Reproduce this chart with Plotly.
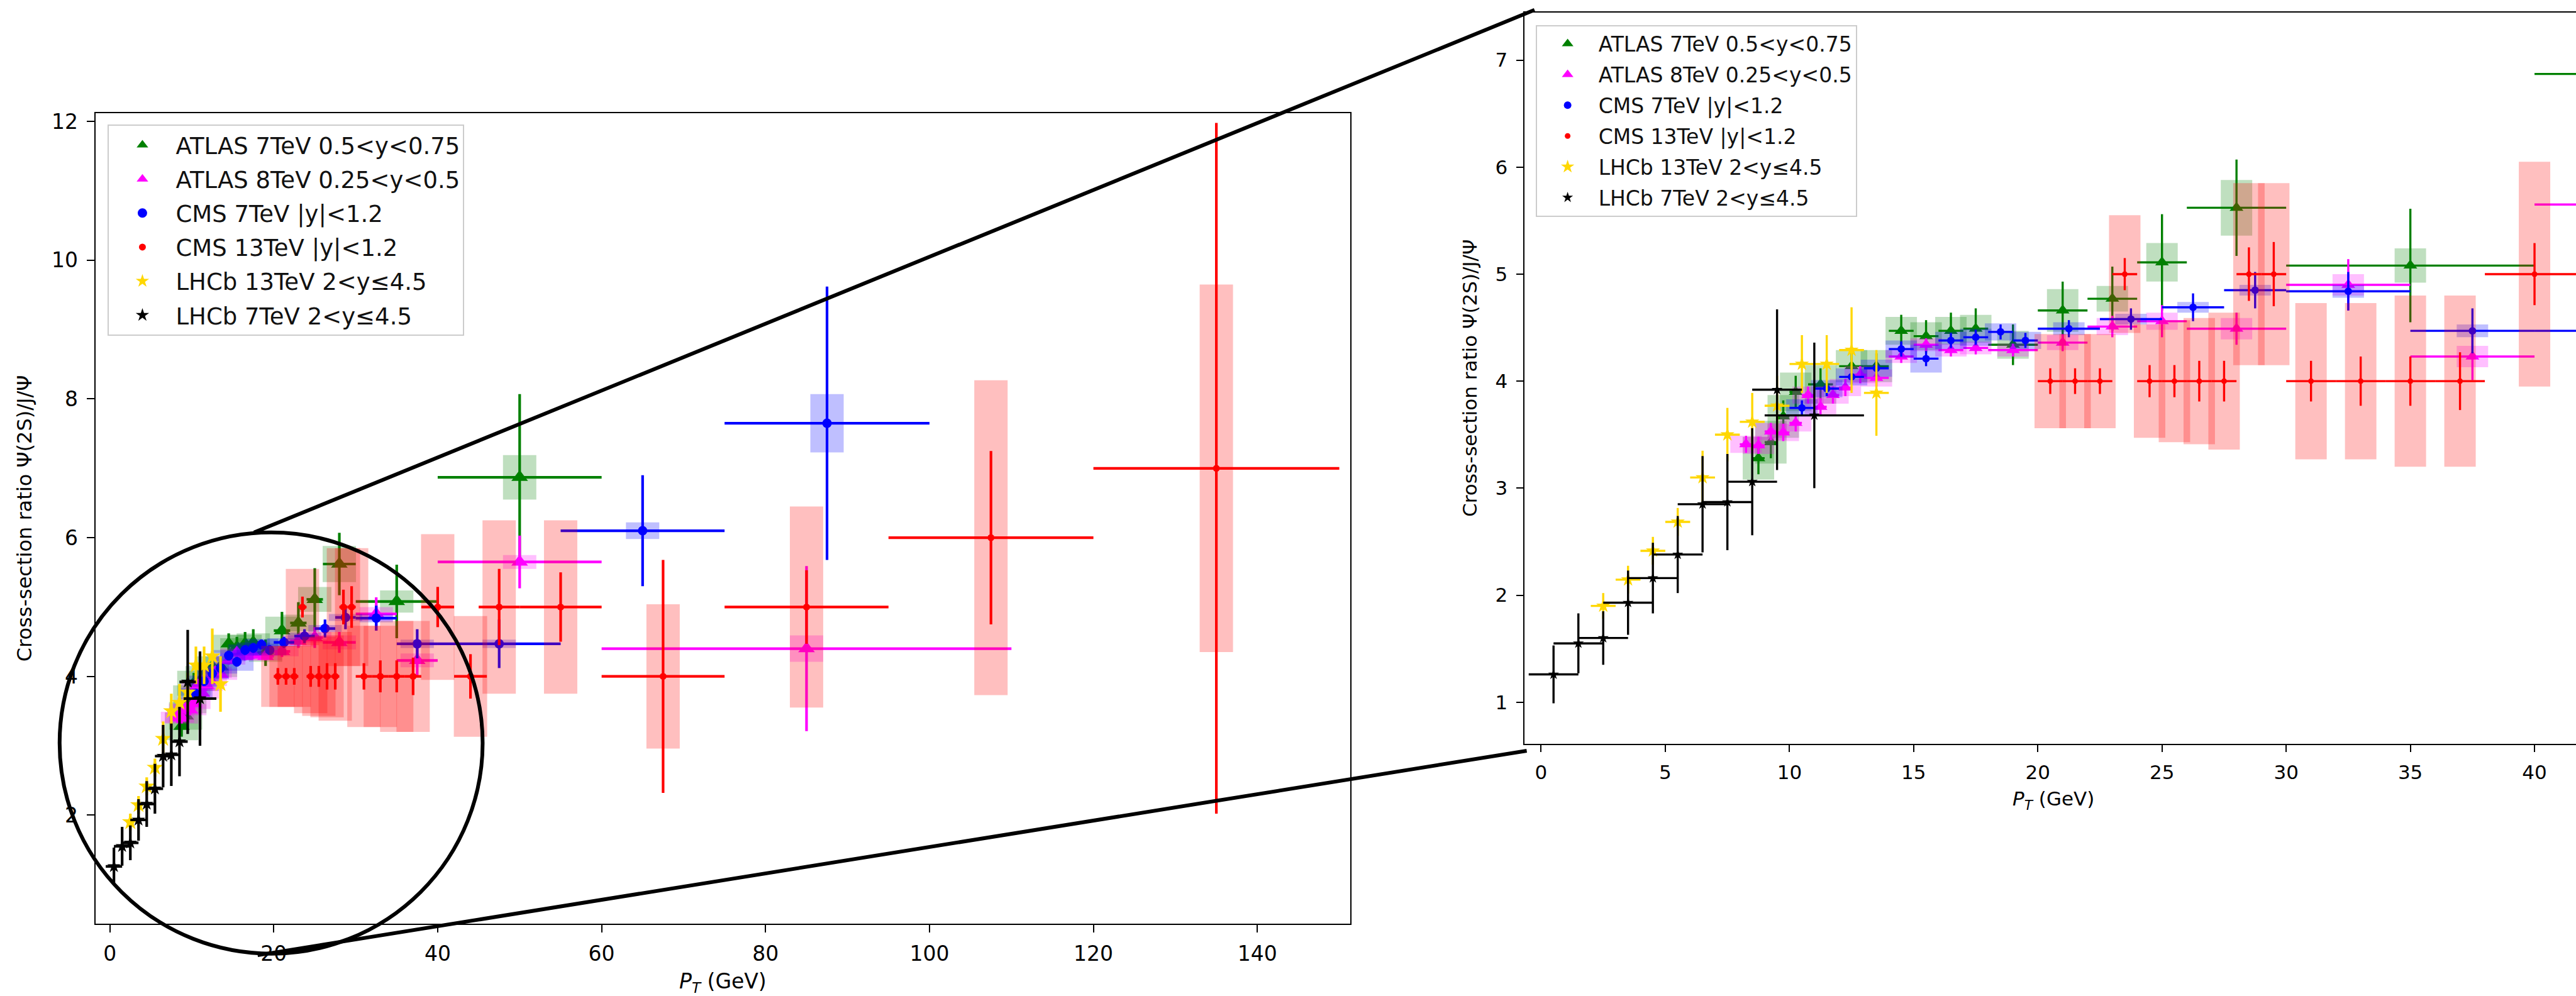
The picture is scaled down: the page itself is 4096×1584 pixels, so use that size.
import plotly.graph_objects as go

# ---------------- data ----------------
# ATLAS 7 TeV 0.5<y<0.75
a7_x = [8.75, 9.25, 9.75, 10.25, 11.25, 12.5, 13.5, 14.5, 15.5, 16.5, 17.5, 19, 21, 23, 25, 28, 35, 50]
a7_y = [3.28, 3.43, 3.67, 3.90, 3.97, 4.14, 4.14, 4.47, 4.42, 4.47, 4.49, 4.34, 4.66, 4.77, 5.11, 5.62, 5.08, 6.87]
a7_xe = [0.25, 0.25, 0.25, 0.25, 0.5, 0.5, 0.5, 0.5, 0.5, 0.5, 0.5, 1, 1, 1, 1, 2, 5, 10]
a7_ye = [0.15, 0.15, 0.15, 0.15, 0.15, 0.12, 0.12, 0.15, 0.15, 0.17, 0.19, 0.19, 0.27, 0.3, 0.45, 0.45, 0.53, 1.2]
a7_sys = [0.2, 0.2, 0.2, 0.18, 0.18, 0.15, 0.15, 0.13, 0.13, 0.13, 0.13, 0.13, 0.2, 0.12, 0.18, 0.26, 0.16, 0.32]

# ATLAS 8 TeV 0.25<y<0.5
a8_x = [8.25, 8.75, 9.25, 9.75, 10.25, 10.75, 11.25, 11.75, 12.25, 12.85, 13.5, 14.5, 15.5, 16.5, 17.5,
        19, 21, 23, 25, 28, 32.5, 37.5, 50, 85]
a8_y = [3.41, 3.40, 3.53, 3.52, 3.61, 3.87, 3.76, 3.87, 3.94, 4.06, 4.03, 4.23, 4.34, 4.29, 4.31,
        4.29, 4.36, 4.51, 4.56, 4.49, 4.90, 4.23, 5.65, 4.40]
a8_xe = [0.25, 0.25, 0.25, 0.25, 0.25, 0.25, 0.25, 0.25, 0.25, 0.25, 0.5, 0.5, 0.5, 0.5, 0.5,
         1, 1, 1, 1, 2, 2.5, 2.5, 10, 25]
a8_ye = [0.08, 0.08, 0.08, 0.08, 0.08, 0.08, 0.08, 0.08, 0.08, 0.08, 0.08, 0.06, 0.06, 0.06, 0.06,
         0.06, 0.08, 0.1, 0.15, 0.15, 0.24, 0.22, 0.38, 1.19]
a8_sys = [0.08, 0.08, 0.08, 0.08, 0.08, 0.08, 0.08, 0.08, 0.08, 0.08, 0.08, 0.06, 0.06, 0.06, 0.06,
          0.06, 0.07, 0.08, 0.08, 0.1, 0.1, 0.1, 0.1, 0.19]

# CMS 7 TeV |y|<1.2
c7_x = [10.5, 11.5, 12.5, 13.5, 14.5, 15.5, 16.5, 17.5, 18.5, 19.5, 21.25, 23.75, 26.25, 28.75, 32.5, 37.5, 47.5, 65, 87.5]
c7_y = [3.75, 3.93, 4.04, 4.12, 4.30, 4.21, 4.38, 4.41, 4.46, 4.38, 4.49, 4.58, 4.69, 4.85, 4.84, 4.47, 4.47, 6.10, 7.65]
c7_xe = [0.5, 0.5, 0.5, 0.5, 0.5, 0.5, 0.5, 0.5, 0.5, 0.5, 1.25, 1.25, 1.25, 1.25, 2.5, 2.5, 7.5, 10, 12.5]
c7_ye = [0.07, 0.07, 0.07, 0.07, 0.07, 0.07, 0.07, 0.07, 0.07, 0.07, 0.08, 0.1, 0.13, 0.17, 0.18, 0.21, 0.35, 0.8, 1.97]
c7_sys = [0.08, 0.08, 0.08, 0.08, 0.08, 0.13, 0.08, 0.08, 0.08, 0.08, 0.06, 0.05, 0.05, 0.05, 0.06, 0.06, 0.06, 0.12, 0.42]

# CMS 13 TeV |y|<1.2
c13_x = [20.5, 21.5, 22.5, 23.5, 24.5, 25.5, 26.5, 27.5, 28.5, 29.5, 31, 33, 35, 37, 40, 44, 47.5, 55, 67.5, 85, 107.5, 135]
c13_y = [4.0, 4.0, 4.0, 5.0, 4.0, 4.0, 4.0, 4.0, 5.0, 5.0, 4.0, 4.0, 4.0, 4.0, 5.0, 4.0, 5.0, 5.0, 4.0, 5.0, 6.0, 7.0]
c13_xe = [0.5, 0.5, 0.5, 0.5, 0.5, 0.5, 0.5, 0.5, 0.5, 0.5, 1, 1, 1, 1, 2, 2, 2.5, 5, 7.5, 10, 12.5, 15]
c13_ye = [0.12, 0.12, 0.12, 0.15, 0.15, 0.15, 0.19, 0.19, 0.25, 0.3, 0.19, 0.23, 0.23, 0.27, 0.29, 0.32, 0.55, 0.5,
          1.68, 0.53, 1.25, 4.98]
c13_sys = [0.44, 0.44, 0.44, 0.55, 0.53, 0.57, 0.59, 0.64, 0.85, 0.85, 0.73, 0.73, 0.8, 0.8, 1.05, 0.87, 1.25, 1.25,
           1.04, 1.45, 2.27, 2.65]

# LHCb 13 TeV 2<y<=4.5
l13_x = [2.5, 3.5, 4.5, 5.5, 6.5, 7.5, 8.5, 9.5, 10.5, 11.5, 12.5, 13.5]
l13_y = [1.90, 2.145, 2.415, 2.685, 3.10, 3.50, 3.62, 3.77, 4.16, 4.16, 4.29, 3.89]
l13_xe = [0.5, 0.5, 0.5, 0.5, 0.5, 0.5, 0.5, 0.5, 0.5, 0.5, 0.5, 0.5]
l13_ye = [0.12, 0.13, 0.13, 0.13, 0.25, 0.25, 0.27, 0.28, 0.27, 0.27, 0.4, 0.4]

# LHCb 7 TeV 2<y<=4.5
l7_x = [0.5, 1.5, 2.5, 3.5, 4.5, 5.5, 6.5, 7.5, 8.5, 9.5, 11]
l7_y = [1.26, 1.55, 1.60, 1.93, 2.16, 2.38, 2.85, 2.87, 3.06, 3.92, 3.68]
l7_xe = [1, 1, 1, 1, 1, 1, 1, 1, 1, 1, 2]
l7_ye = [0.27, 0.28, 0.25, 0.3, 0.33, 0.36, 0.45, 0.45, 0.5, 0.75, 0.68]

names = ["ATLAS 7TeV 0.5<y<0.75", "ATLAS 8TeV 0.25<y<0.5", "CMS 7TeV |y|<1.2",
         "CMS 13TeV |y|<1.2", "LHCb 13TeV 2<y≤4.5", "LHCb 7TeV 2<y≤4.5"]

y_title = "Cross-section ratio Ψ(2S)/J/Ψ"
x_title = "<i>P<sub>T</sub></i> (GeV)"

left_xticks = [0, 20, 40, 60, 80, 100, 120, 140]
left_yticks = [2, 4, 6, 8, 10, 12]
right_xticks = [0, 5, 10, 15, 20, 25, 30, 35, 40]
right_yticks = [1, 2, 3, 4, 5, 6, 7]

FONT = "DejaVu Sans"
W, H = 4096, 1584

fig = go.Figure()

series = [
    dict(x=a7_x, y=a7_y, xe=a7_xe, ye=a7_ye, sys=a7_sys, color="#008000", box="rgba(0,128,0,0.25)",
         sym="triangle-up", size=(23, 19), name=names[0]),
    dict(x=a8_x, y=a8_y, xe=a8_xe, ye=a8_ye, sys=a8_sys, color="#FF00FF", box="rgba(255,0,255,0.25)",
         sym="triangle-up", size=(23, 19), name=names[1]),
    dict(x=c7_x, y=c7_y, xe=c7_xe, ye=c7_ye, sys=c7_sys, color="#0000FF", box="rgba(0,0,255,0.25)",
         sym="circle", size=(15, 12), name=names[2]),
    dict(x=c13_x, y=c13_y, xe=c13_xe, ye=c13_ye, sys=c13_sys, color="#FF0000", box="rgba(255,0,0,0.25)",
         sym="circle", size=(11, 9), name=names[3]),
    dict(x=l13_x, y=l13_y, xe=l13_xe, ye=l13_ye, sys=None, color="#FFD700", box=None,
         sym="star", size=(20, 17), name=names[4]),
    dict(x=l7_x, y=l7_y, xe=l7_xe, ye=l7_ye, sys=None, color="#000000", box=None,
         sym="star", size=(16, 13), name=names[5]),
]

panels = [
    dict(xa="x", ya="y", legend="legend", lw=4.2, boxw=53, idx=0),
    dict(xa="x2", ya="y2", legend="legend2", lw=3.4, boxw=50, idx=1),
]

for p in panels:
    for k, s in enumerate(series):
        grp = f"{p['legend']}_{k}"
        if s["sys"] is not None:
            bx, by = [], []
            for xi, yi, si in zip(s["x"], s["y"], s["sys"]):
                bx += [xi, xi, None]
                by += [yi - si, yi + si, None]
            fig.add_trace(go.Scatter(
                x=bx, y=by, mode="lines", line=dict(color=s["box"], width=p["boxw"]),
                xaxis=p["xa"], yaxis=p["ya"], showlegend=False, hoverinfo="skip",
                legendgroup=grp, legend=p["legend"]))
        fig.add_trace(go.Scatter(
            x=s["x"], y=s["y"], mode="markers", name=s["name"],
            marker=dict(symbol=s["sym"], size=s["size"][p["idx"]], color=s["color"], line=dict(width=0)),
            error_x=dict(type="data", array=s["xe"], color=s["color"], thickness=p["lw"], width=0),
            error_y=dict(type="data", array=s["ye"], color=s["color"], thickness=p["lw"], width=0),
            xaxis=p["xa"], yaxis=p["ya"], legend=p["legend"], legendgroup=grp))

axis_common = dict(showgrid=False, zeroline=False, showline=True, linecolor="black", linewidth=2,
                   ticks="outside", tickcolor="black", tickwidth=2, color="black")

fig.update_layout(
    width=W, height=H, margin=dict(l=0, r=0, t=0, b=0),
    paper_bgcolor="white", plot_bgcolor="white",
    font=dict(family=FONT, color="black"),
    xaxis=dict(domain=[0.03723, 0.52405], range=[-1.7, 151.3], tickvals=left_xticks,
               mirror=True, ticklen=12, tickfont=dict(size=33), ticklabelstandoff=5, anchor="y", **axis_common),
    yaxis=dict(domain=[0.0728, 0.8897], range=[0.433, 12.12], tickvals=left_yticks,
               mirror=True, ticklen=12, tickfont=dict(size=33), ticklabelstandoff=8, anchor="x", **axis_common),
    xaxis2=dict(domain=[0.5919, 1.0], range=[-0.66, 41.67], tickvals=right_xticks,
                mirror=True, ticklen=11, tickfont=dict(size=31), ticklabelstandoff=5, anchor="y2", **axis_common),
    yaxis2=dict(domain=[0.2539, 0.99116], range=[0.609, 7.444], tickvals=right_yticks,
                mirror=False, ticklen=11, tickfont=dict(size=31), ticklabelstandoff=8, anchor="x2", **axis_common),
    legend=dict(x=0.04186, y=0.8783, xanchor="left", yanchor="top", bgcolor="rgba(255,255,255,0.85)",
                bordercolor="#cccccc", borderwidth=2, font=dict(size=37, family=FONT, color="#111111"),
                tracegroupgap=3, itemwidth=96, traceorder="grouped"),
    legend2=dict(x=0.5961, y=0.9787, xanchor="left", yanchor="top", bgcolor="rgba(255,255,255,0.85)",
                 bordercolor="#cccccc", borderwidth=2, font=dict(size=33, family=FONT, color="#111111"),
                 tracegroupgap=3, itemwidth=88, traceorder="grouped"),
    showlegend=True,
)

# axis titles
fig.add_annotation(text=y_title, x=0.00946, y=0.4813, xref="paper", yref="paper", textangle=-90,
                   showarrow=False, xanchor="center", yanchor="middle", font=dict(size=32, family=FONT))
fig.add_annotation(text=y_title, x=0.5705, y=0.6228, xref="paper", yref="paper", textangle=-90,
                   showarrow=False, xanchor="center", yanchor="middle", font=dict(size=31, family=FONT))
fig.add_annotation(text=x_title, x=0.2807, y=0.0135, xref="paper", yref="paper",
                   showarrow=False, xanchor="center", yanchor="middle", font=dict(size=33, family=FONT))
fig.add_annotation(text=x_title, x=0.797, y=0.1972, xref="paper", yref="paper",
                   showarrow=False, xanchor="center", yanchor="middle", font=dict(size=31, family=FONT))

# zoom indication: circle around low-pT region and connecting lines
fig.add_shape(type="circle", xref="paper", yref="paper", x0=0.02314, x1=0.18736, y0=0.04266, y1=0.46722,
              line=dict(color="black", width=6), layer="above")
fig.add_shape(type="line", xref="paper", yref="paper", x0=0.09861, y0=0.46722, x1=0.5957, y1=0.99376,
              line=dict(color="black", width=6), layer="above")
fig.add_shape(type="line", xref="paper", yref="paper", x0=0.10002, y0=0.04110, x1=0.59267, y1=0.24714,
              line=dict(color="black", width=6), layer="above")

fig.write_html("out.html", config={"displayModeBar": False},
               post_script="document.body.style.margin='0';document.body.style.overflow='hidden';")
